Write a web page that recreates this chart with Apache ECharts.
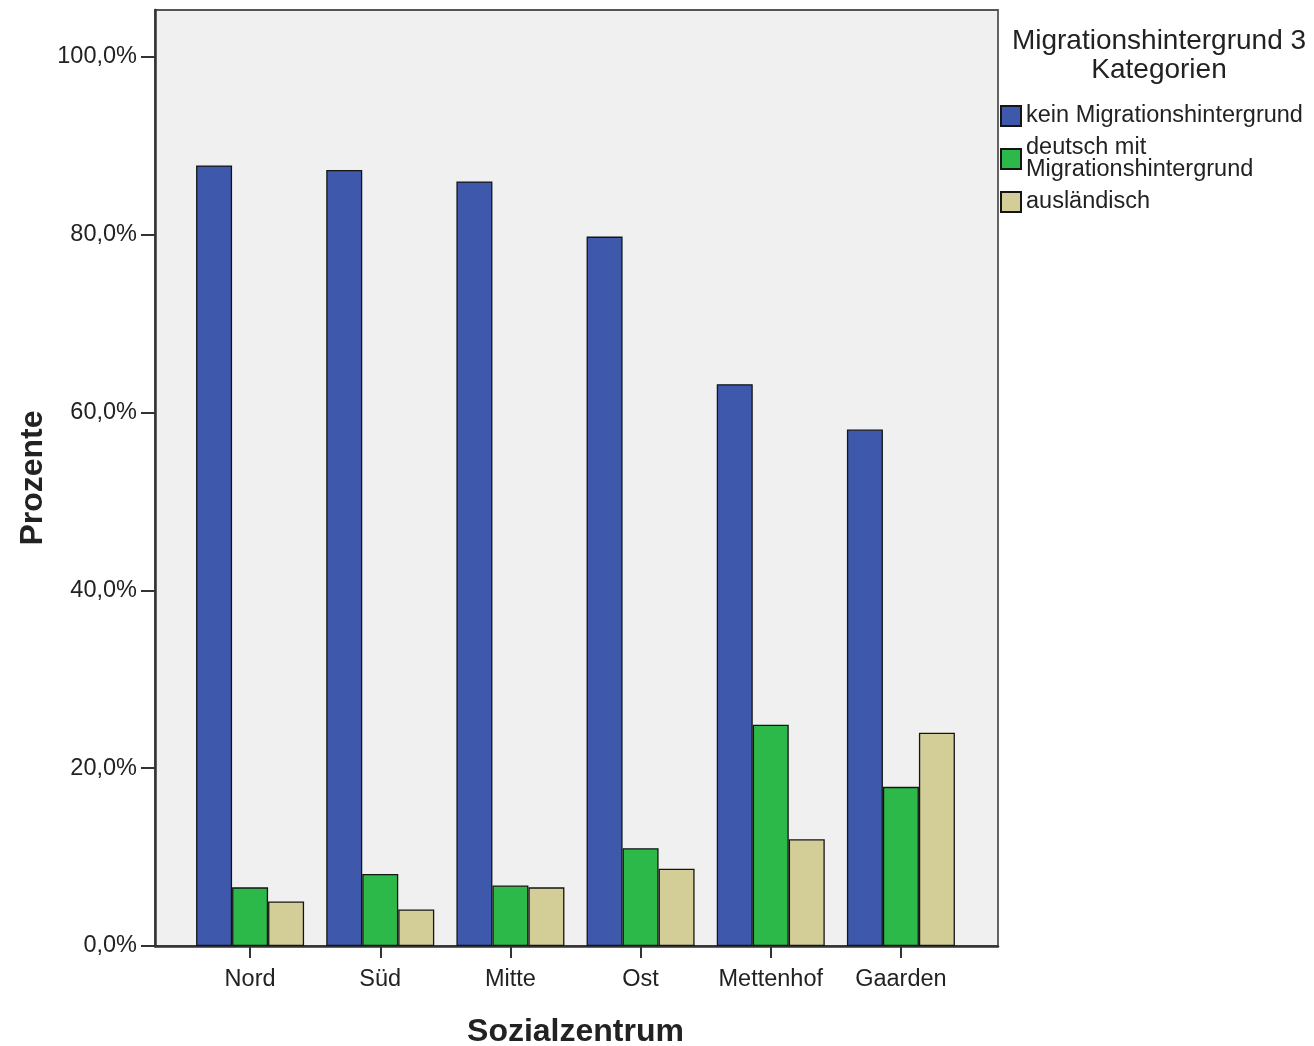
<!DOCTYPE html>
<html>
<head>
<meta charset="utf-8">
<script src="https://cdn.jsdelivr.net/npm/echarts@6/dist/echarts.min.js"></script>
<style>
html,body{margin:0;padding:0;background:#fff;}
#chart{width:1314px;height:1046px;}
</style>
</head>
<body>
<div id="chart"></div>
<script>
const categories = ['Nord', 'Süd', 'Mitte', 'Ost', 'Mettenhof', 'Gaarden'];
const seriesNames = ['kein Migrationshintergrund', 'deutsch mit\nMigrationshintergrund', 'ausländisch'];
const keinMigration = [87.8, 87.3, 86.0, 79.8, 63.2, 58.1];
const deutschMitMigration = [6.6, 8.1, 6.8, 11.0, 24.9, 17.9];
const auslaendisch = [5.0, 4.1, 6.6, 8.7, 12.0, 24.0];
const yTicks = [0, 20, 40, 60, 80, 100];
const colors = ['#3e58ac', '#2db84a', '#d3ce97'];

const font = 'Liberation Sans, Arial, sans-serif';
const chart = echarts.init(document.getElementById('chart'));
const mk = (name, data, color) => ({
  name: name, type: 'bar', xAxisIndex: 1, yAxisIndex: 1, data: data,
  barWidth: 36, barGap: '0%',
  itemStyle: { color: color, borderColor: '#151515', borderWidth: 1.3 },
  emphasis: { disabled: true }
});
chart.setOption({
  animation: false,
  backgroundColor: '#ffffff',
  title: {
    text: 'Migrationshintergrund 3\nKategorien',
    left: 1154, top: 22, textAlign: 'center',
    textStyle: { fontFamily: font, fontSize: 28, fontWeight: 'normal', lineHeight: 29, color: '#222' }
  },
  legend: {
    orient: 'vertical', left: 995, top: 99, itemWidth: 20, itemHeight: 20, itemGap: 8,
    icon: 'rect',
    data: seriesNames,
    textStyle: { fontFamily: font, fontSize: 23.5, lineHeight: 22, color: '#222' }
  },
  grid: [
    { left: 155, right: 316, top: 57, bottom: 100, outerBoundsMode: 'none', containLabel: false },
    { left: 185, right: 348, top: 57, bottom: 100, outerBoundsMode: 'none', containLabel: false },
    { left: 155, right: 316, top: 10, bottom: 100, outerBoundsMode: 'none', containLabel: false,
      show: true, backgroundColor: '#f0f0f0', borderColor: '#555', borderWidth: 1.8 }
  ],
  xAxis: [
    { gridIndex: 0, type: 'value', show: false, min: 0, max: 1 },
    {
      gridIndex: 1, type: 'category', data: categories,
      axisLine: { show: false },
      axisTick: { show: true, alignWithLabel: true, length: 12, lineStyle: { color: '#333', width: 2 } },
      axisLabel: { fontFamily: font, fontSize: 23.5, color: '#222', margin: 22, interval: 0 },
      name: 'Sozialzentrum', nameLocation: 'middle', nameGap: 70,
      nameTextStyle: { fontFamily: font, fontSize: 32, fontWeight: 'bold', color: '#222' }
    },
    {
      gridIndex: 2, type: 'value', min: 0, max: 1,
      axisLine: { show: true, lineStyle: { color: '#333', width: 2.5 } },
      axisTick: { show: false }, axisLabel: { show: false }, splitLine: { show: false }
    }
  ],
  yAxis: [
    {
      gridIndex: 0, type: 'value', min: yTicks[0], max: yTicks[yTicks.length - 1], interval: yTicks[1] - yTicks[0],
      axisLine: { show: false },
      axisTick: { show: true, length: 14, lineStyle: { color: '#333', width: 2 } },
      axisLabel: { fontFamily: font, fontSize: 23.5, color: '#222', margin: 18, padding: [4, 0, 0, 0],
        formatter: v => v.toFixed(1).replace('.', ',') + '%' },
      splitLine: { show: false }
    },
    { gridIndex: 1, type: 'value', min: 0, max: 100, show: false },
    {
      gridIndex: 2, type: 'value', min: 0, max: 1,
      axisLine: { show: true, lineStyle: { color: '#333', width: 2.5 } },
      axisTick: { show: false }, axisLabel: { show: false }, splitLine: { show: false },
      name: 'Prozente', nameLocation: 'middle', nameGap: 106, nameRotate: 90,
      nameTextStyle: { fontFamily: font, fontSize: 32, fontWeight: 'bold', color: '#222' }
    }
  ],
  series: [
    mk(seriesNames[0], keinMigration, colors[0]),
    mk(seriesNames[1], deutschMitMigration, colors[1]),
    mk(seriesNames[2], auslaendisch, colors[2])
  ]
});
</script>
</body>
</html>
